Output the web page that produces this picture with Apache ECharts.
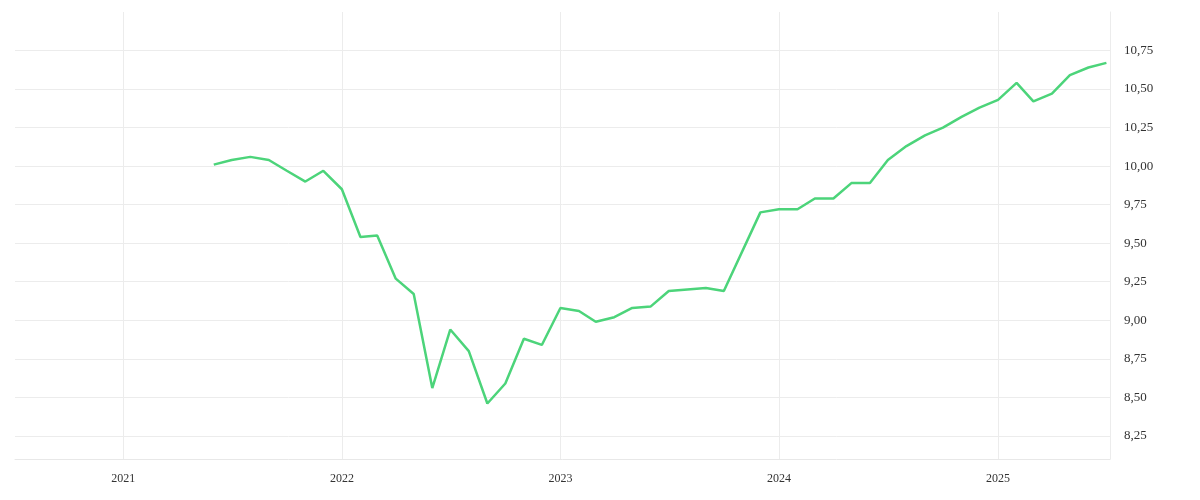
<!DOCTYPE html>
<html><head><meta charset="utf-8">
<script src="https://cdn.jsdelivr.net/npm/echarts@6/dist/echarts.min.js"></script>
<style>html,body{margin:0;padding:0;background:#fff}#c{width:1200px;height:500px}</style>
</head><body><div id="c"></div>
<script>
const dates = ["2021-06-01","2021-07-01","2021-08-01","2021-09-01","2021-10-01","2021-11-01","2021-12-01",
"2022-01-01","2022-02-01","2022-03-01","2022-04-01","2022-05-01","2022-06-01","2022-07-01","2022-08-01","2022-09-01","2022-10-01","2022-11-01","2022-12-01",
"2023-01-01","2023-02-01","2023-03-01","2023-04-01","2023-05-01","2023-06-01","2023-07-01","2023-08-01","2023-09-01","2023-10-01","2023-12-01",
"2024-01-01","2024-02-01","2024-03-01","2024-04-01","2024-05-01","2024-06-01","2024-07-01","2024-08-01","2024-09-01","2024-10-01","2024-11-01","2024-12-01",
"2025-01-01","2025-02-01","2025-03-01","2025-04-01","2025-05-01","2025-06-01","2025-07-01"];
const values = [10.01,10.04,10.06,10.04,9.97,9.90,9.97,
9.85,9.54,9.55,9.27,9.17,8.56,8.94,8.80,8.46,8.59,8.88,8.84,
9.08,9.06,8.99,9.02,9.08,9.09,9.19,9.20,9.21,9.19,9.70,
9.72,9.72,9.79,9.79,9.89,9.89,10.04,10.13,10.20,10.25,10.32,10.38,
10.43,10.54,10.42,10.47,10.59,10.64,10.67];
const yTicks = [8.25,8.5,8.75,9,9.25,9.5,9.75,10,10.25,10.5,10.75];
const xTicks = ["2021-01-01","2022-01-01","2023-01-01","2024-01-01","2025-01-01"];
const ts = d => +new Date(d+"T00:00:00Z");
const xt = xTicks.map(ts);
const chart = echarts.init(document.getElementById('c'));
const font = "'Liberation Serif', serif";
chart.setOption({
  animation:false,
  grid:{left:15,right:90,top:12,bottom:41},
  xAxis:{type:'value',min:ts("2020-07-04"),max:ts("2025-07-07"),
    axisLine:{show:true,lineStyle:{color:'#e8e8e8'}},
    axisTick:{show:false,customValues:xt},
    axisLabel:{customValues:xt,formatter:v=>String(new Date(v).getUTCFullYear()),color:'#333',fontFamily:font,fontSize:12,margin:14},
    splitLine:{show:true,lineStyle:{color:'#ececec'}}},
  yAxis:{type:'value',position:'right',min:8.1,max:11.0,
    axisLine:{show:true,lineStyle:{color:'#ececec'}},
    axisTick:{show:false,customValues:yTicks},
    axisLabel:{customValues:yTicks,formatter:v=>v.toFixed(2).replace('.',','),color:'#333',fontFamily:font,fontSize:13,margin:14},
    splitLine:{show:true,lineStyle:{color:'#ececec'}}},
  series:[{type:'line',data:dates.map((d,i)=>[ts(d),values[i]]),showSymbol:false,
    lineStyle:{color:'#4cd47a',width:2.5},itemStyle:{color:'#4cd47a'}}]
});
</script></body></html>
